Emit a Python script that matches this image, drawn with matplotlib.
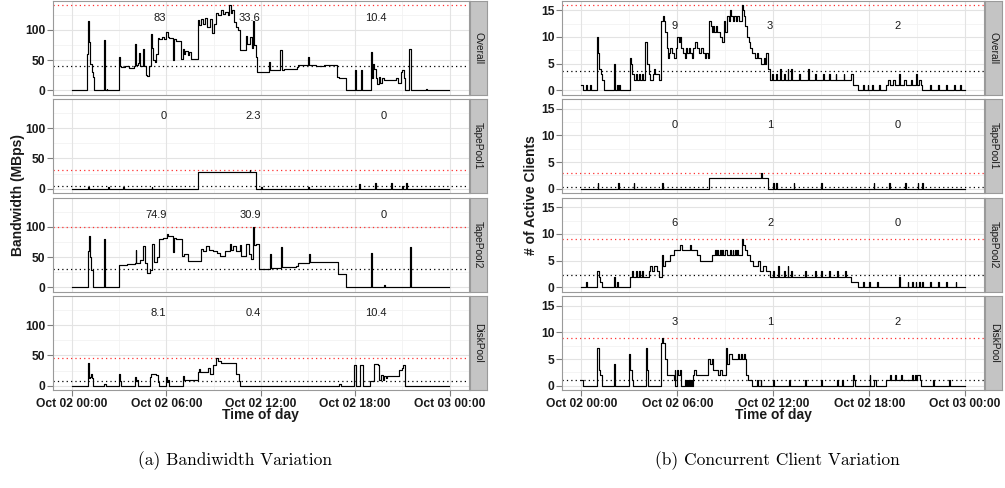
import matplotlib
matplotlib.use("Agg")
import matplotlib.pyplot as plt

# ---------------------------------------------------------------- data
facets = ["Overall", "TapePool1", "TapePool2", "DiskPool"]
hour_ticks = [0, 6, 12, 18, 24]
hour_labels = ["Oct 02 00:00", "Oct 02 06:00", "Oct 02 12:00",
               "Oct 02 18:00", "Oct 03 00:00"]

# Bandwidth (MBps): (hour, value) breakpoints, each value held until the next
bw_overall = [(0, 0), (0.99, 60), (1.04, 115), (1.10, 80), (1.17, 44), (1.25, 30), (1.31, 22), (1.41, 0),
              (2.03, 83), (2.11, 0), (2.20, 3), (2.25, 0),
              (3.02, 55), (3.08, 40), (3.15, 38), (3.4, 40), (3.6, 37), (3.95, 40), (4.01, 76), (4.06, 42),
              (4.2, 45), (4.27, 62), (4.32, 40), (4.52, 69), (4.58, 40), (4.7, 25), (4.78, 23), (4.92, 40),
              (5.03, 93), (5.10, 70), (5.17, 50), (5.25, 46), (5.35, 60), (5.45, 86), (5.55, 84), (5.7, 88),
              (5.85, 84), (6.0, 96), (6.08, 88), (6.2, 86), (6.42, 50), (6.48, 84), (6.6, 82), (6.95, 51),
              (7.03, 69), (7.1, 60), (7.2, 65), (7.35, 58), (7.45, 63), (7.55, 51), (8.0, 116), (8.1, 108),
              (8.2, 118), (8.3, 110), (8.45, 120), (8.6, 105), (8.75, 118), (8.9, 94), (9.05, 110),
              (9.18, 128), (9.3, 125), (9.45, 132), (9.6, 126), (9.75, 130), (9.9, 124), (10.0, 141),
              (10.08, 127), (10.2, 132), (10.3, 113), (10.4, 105), (10.55, 100), (10.7, 66), (11.05, 90),
              (11.15, 77), (11.3, 88), (11.45, 70), (11.52, 115), (11.58, 75), (11.68, 55), (11.78, 31),
              (12.5, 47), (12.56, 34), (13.25, 66), (13.32, 34), (13.45, 36), (14.3, 39), (14.36, 41),
              (15.0, 55), (15.06, 41), (15.5, 40), (16.0, 42), (16.85, 22), (17.0, 21), (17.4, 0),
              (18.0, 34), (18.08, 0), (18.35, 34), (18.42, 0), (18.98, 63), (19.05, 20), (19.12, 44),
              (19.2, 35), (19.3, 20), (19.4, 10), (19.5, 22), (19.6, 12), (19.7, 20), (19.8, 17),
              (20.2, 17), (20.6, 20), (20.75, 12), (20.9, 30), (21.0, 34), (21.1, 20), (21.17, 0),
              (21.45, 68), (21.52, 0), (22.5, 2), (22.55, 0), (23.95, 0)]
bw_tape1 = [(0, 0), (1.01, 3), (1.06, 0), (2.28, 3), (2.33, 0), (3.27, 3), (3.32, 0), (5.07, 3), (5.12, 0),
            (8.02, 28.4), (11.29, 30.6), (11.34, 28.4), (11.67, 0), (12.03, 3), (12.08, 0),
            (14.99, 3), (15.04, 0), (18.26, 7.6), (18.31, 0), (19.27, 9), (19.32, 0), (20.27, 9),
            (20.32, 0), (21.0, 5), (21.05, 0), (21.26, 10), (21.31, 0), (23.95, 0)]
bw_tape2 = [(0, 0), (1.01, 60), (1.06, 84), (1.14, 50), (1.2, 28), (1.31, 0), (2.03, 79), (2.11, 0),
            (3.02, 37), (3.5, 39), (4.01, 40), (4.05, 62), (4.1, 40), (4.33, 45), (4.55, 69), (4.62, 40),
            (4.75, 24), (4.96, 28), (5.1, 71), (5.2, 42), (5.38, 50), (5.52, 79), (5.81, 82), (6.02, 88),
            (6.12, 85), (6.33, 85), (6.44, 58), (6.5, 82), (6.6, 80), (6.97, 52), (7.1, 55), (7.39, 43),
            (7.9, 43), (8.23, 63), (8.35, 60), (8.55, 69), (8.7, 62), (8.97, 60), (9.2, 57), (9.39, 52),
            (9.7, 60), (10.03, 71), (10.1, 62), (10.24, 68), (10.4, 60), (10.66, 70), (10.77, 52),
            (11.08, 71), (11.25, 55), (11.4, 47), (11.52, 100), (11.6, 70), (11.72, 71), (11.89, 31),
            (12.6, 55), (12.67, 32), (13.3, 66), (13.36, 34), (14.25, 36), (14.35, 40), (15.05, 55),
            (15.1, 42), (16.89, 22), (17.42, 0), (19.0, 57), (19.06, 0), (19.84, 4), (19.9, 0),
            (21.49, 67), (21.55, 0), (23.95, 0)]
bw_disk = [(0, 0), (1.03, 38), (1.1, 12), (1.16, 15), (1.22, 20), (1.28, 12), (1.36, 0), (2.05, 3), (2.17, 0),
           (3.0, 20), (3.06, 8), (3.1, 0), (4.01, 14), (4.06, 7), (4.12, 9), (4.2, 0), (4.95, 15),
           (5.05, 20), (5.35, 17), (5.45, 6), (5.55, 0), (5.95, 14), (6.05, 6), (6.12, 10), (6.2, 0),
           (7.03, 16), (7.15, 10), (8.02, 22), (8.1, 27), (8.15, 22), (8.55, 22), (8.66, 29), (8.76, 20),
           (8.97, 34), (9.15, 46), (9.3, 41), (9.45, 38), (10.41, 38), (10.45, 20), (10.6, 8), (10.7, 0),
           (17.0, 3), (17.08, 0), (17.94, 34), (18.05, 0), (18.3, 34), (18.47, 0), (18.96, 8),
           (19.2, 36), (19.42, 34), (19.5, 9), (19.62, 17), (19.74, 9), (19.85, 16), (19.95, 12),
           (20.05, 16), (20.69, 16), (20.8, 26), (20.95, 30), (21.05, 35), (21.17, 0), (23.95, 0)]

# Concurrent active clients: (hour, count) breakpoints
cl_overall = [(0, 1), (0.1, 0), (0.31, 1), (0.36, 0), (0.56, 1), (0.6, 0), (0.96, 5), (0.99, 10), (1.06, 7),
              (1.12, 4), (1.2, 3), (1.29, 2), (1.39, 0), (2.02, 5), (2.08, 1), (2.12, 0), (2.22, 1),
              (2.28, 0), (2.33, 1), (2.38, 0), (3.01, 6), (3.08, 5), (3.16, 3), (3.26, 2), (3.4, 3),
              (3.45, 2), (3.6, 3), (3.65, 2), (3.8, 3), (3.85, 2), (4.0, 9), (4.08, 5), (4.2, 3), (4.3, 2),
              (4.45, 3), (4.51, 4), (4.6, 3), (4.88, 2), (5.0, 13), (5.08, 14), (5.15, 13), (5.24, 11),
              (5.34, 8), (5.44, 6), (5.5, 7), (5.55, 8), (5.65, 7), (5.76, 6), (5.9, 8), (6.0, 10),
              (6.1, 9), (6.17, 10), (6.25, 8), (6.35, 7), (6.45, 6), (6.55, 8), (6.62, 7), (6.7, 8),
              (6.8, 7), (6.9, 6), (7.0, 8), (7.1, 9), (7.2, 8), (7.35, 7), (7.45, 8), (7.6, 7), (7.7, 6),
              (7.8, 7), (7.94, 6), (8.0, 13), (8.08, 12), (8.15, 11), (8.25, 12), (8.32, 11), (8.4, 12),
              (8.5, 11), (8.67, 10), (8.77, 9), (8.91, 13), (9.0, 11), (9.08, 14), (9.2, 13), (9.29, 15),
              (9.35, 14), (9.45, 13), (9.55, 14), (9.65, 13), (9.75, 14), (9.85, 13), (10.02, 16),
              (10.1, 15), (10.15, 14), (10.22, 12), (10.33, 10), (10.45, 9), (10.54, 8), (10.65, 7),
              (10.85, 6), (11.0, 7), (11.05, 6), (11.26, 5), (11.4, 6), (11.5, 5), (11.57, 7), (11.68, 4),
              (11.78, 2), (11.9, 3), (12.0, 2), (12.2, 3), (12.25, 2), (12.45, 4), (12.5, 2), (12.7, 3),
              (12.75, 2), (12.9, 4), (12.95, 2), (13.13, 4), (13.2, 2), (13.6, 3), (13.65, 2), (14.2, 4),
              (14.25, 2), (14.6, 3), (14.65, 2), (15.1, 3), (15.15, 2), (15.5, 3), (15.55, 2), (15.9, 3),
              (15.95, 2), (16.4, 3), (16.45, 2), (16.87, 3), (16.98, 1), (17.29, 0), (17.6, 1), (17.65, 0),
              (17.9, 1), (17.95, 0), (18.2, 1), (18.25, 0), (18.6, 1), (18.65, 0), (19.06, 1), (19.2, 2),
              (19.3, 1), (19.5, 2), (19.6, 1), (19.89, 3), (19.95, 1), (20.2, 2), (20.3, 1), (20.6, 2),
              (20.7, 1), (20.9, 3), (21.0, 1), (21.1, 2), (21.24, 1), (21.3, 0), (21.8, 1), (21.85, 0),
              (22.3, 1), (22.35, 0), (22.8, 1), (22.85, 0), (23.3, 1), (23.35, 0), (23.7, 1), (23.75, 0),
              (24, 0)]
cl_tape1 = [(0, 0), (1.02, 1), (1.06, 0), (2.29, 1), (2.33, 0), (3.26, 1), (3.3, 0), (5.03, 1), (5.07, 0),
            (8.0, 2), (11.26, 3), (11.3, 2), (11.68, 0), (11.99, 1), (12.03, 0), (12.2, 1), (12.24, 0),
            (13.28, 1), (13.32, 0), (15.0, 1), (15.04, 0), (18.27, 1), (18.31, 0), (19.26, 1), (19.3, 0),
            (20.26, 1), (20.3, 0), (21.03, 1), (21.07, 0), (21.3, 1), (21.34, 0), (24, 0)]
cl_tape2 = [(0, 0), (0.31, 1), (0.36, 0), (0.98, 3), (1.1, 2), (1.18, 1), (1.29, 0), (2.02, 2), (2.07, 0),
            (2.22, 1), (2.27, 0), (3.01, 2), (3.16, 3), (3.2, 2), (3.4, 3), (3.45, 2), (3.6, 3), (3.65, 2),
            (3.8, 3), (3.85, 2), (4.2, 3), (4.3, 4), (4.4, 3), (4.51, 4), (4.72, 3), (4.88, 2), (5.03, 6),
            (5.1, 4), (5.24, 5), (5.55, 6), (5.76, 7), (6.17, 8), (6.3, 7), (6.8, 8), (6.85, 7), (7.21, 6),
            (7.42, 5), (8.15, 6), (8.35, 7), (8.4, 6), (8.5, 7), (8.55, 6), (8.65, 7), (8.7, 6), (8.8, 7),
            (8.85, 6), (8.95, 7), (9.08, 6), (9.29, 7), (9.35, 6), (9.45, 7), (9.5, 6), (9.6, 7),
            (9.65, 6), (9.75, 7), (9.8, 6), (10.02, 9), (10.08, 8), (10.22, 7), (10.33, 6), (10.54, 5),
            (10.74, 4), (11.05, 5), (11.16, 3), (11.37, 4), (11.57, 3), (11.78, 2), (12.0, 3), (12.05, 2),
            (12.3, 4), (12.35, 2), (12.7, 3), (12.75, 2), (12.9, 4), (12.95, 2), (13.1, 3), (13.15, 2),
            (14.0, 3), (14.05, 2), (14.6, 3), (14.65, 2), (15.0, 3), (15.05, 2), (15.5, 3), (15.55, 2),
            (16.0, 3), (16.05, 2), (16.5, 3), (16.55, 2), (16.87, 1), (17.29, 0), (17.6, 1), (17.65, 0),
            (18.0, 1), (18.05, 0), (18.5, 1), (18.55, 0), (19.89, 2), (19.95, 0), (20.4, 1), (20.45, 0),
            (20.7, 1), (20.75, 0), (20.9, 1), (20.95, 0), (21.1, 1), (21.15, 0), (21.3, 1), (21.35, 0),
            (21.8, 1), (21.85, 0), (22.3, 1), (22.35, 0), (22.8, 1), (22.85, 0), (23.4, 1), (23.45, 0),
            (24, 0)]
cl_disk = [(0, 1), (0.08, 0), (1.0, 7), (1.08, 3), (1.16, 2), (1.28, 0), (2.02, 4), (2.08, 0), (2.99, 6),
           (3.05, 3), (3.14, 1), (3.22, 0), (4.03, 7), (4.1, 3), (4.18, 0), (4.99, 8), (5.05, 9), (5.12, 8),
           (5.2, 5), (5.34, 2), (5.76, 1), (5.82, 3), (5.88, 0), (5.96, 3), (6.03, 2), (6.17, 3), (6.22, 0),
           (6.48, 1), (6.55, 0), (6.6, 1), (6.65, 0), (6.72, 1), (6.78, 0), (6.85, 1), (6.9, 0), (7.0, 2),
           (7.07, 3), (7.15, 2), (7.94, 5), (8.04, 4), (8.15, 5), (8.25, 3), (8.56, 2), (8.67, 3),
           (8.77, 2), (9.04, 7), (9.1, 4), (9.2, 6), (9.39, 5), (9.8, 6), (9.83, 5), (10.0, 6), (10.03, 5),
           (10.15, 6), (10.22, 5), (10.29, 2), (10.43, 1), (10.68, 0), (11.0, 1), (11.04, 0), (11.2, 1),
           (11.24, 0), (12.0, 1), (12.04, 0), (13.0, 1), (13.04, 0), (14.0, 1), (14.04, 0), (15.0, 1),
           (15.04, 0), (16.0, 1), (16.04, 0), (16.3, 1), (16.34, 0), (16.98, 2), (17.05, 1), (17.1, 0),
           (18.02, 2), (18.08, 0), (18.33, 1), (18.45, 0), (19.06, 1), (19.3, 2), (19.35, 1), (19.6, 2),
           (19.65, 1), (20.0, 2), (20.05, 1), (20.7, 2), (20.75, 1), (20.85, 2), (20.9, 1), (21.0, 2),
           (21.18, 1), (21.24, 0), (22.0, 1), (22.04, 0), (23.0, 1), (23.04, 0), (24, 0)]

bw_max = [141, 30.6, 100, 45.6]
bw_mean = [40, 4.2, 29.5, 7]
cl_max = [16, 3, 9, 9]
cl_mean = [3.6, 0.3, 2.35, 1.0]

bw_notes = [["83", "33.6", "10.4"], ["0", "2.3", "0"], ["74.9", "30.9", "0"], ["8.1", "0.4", "10.4"]]
cl_notes = [["9", "3", "2"], ["0", "1", "0"], ["6", "2", "0"], ["3", "1", "2"]]
note_hours = [6, 12, 20]

# ---------------------------------------------------------------- layout
W, H = 1005, 488
fig = plt.figure(figsize=(W / 100, H / 100), dpi=100)
fig.patch.set_facecolor("white")

panel_tops = [0.6, 99.0, 197.6, 296.0]
panel_h = 94.0
TICK_COLOR = "#7f7f7f"
TEXT_COLOR = "#1a1a1a"


def draw_facets(x0, x1, strip_x0, strip_x1, series, maxes, means, notes, note_y,
                ylim, yticks, yminor, ylabel, ylabel_x):
    for i, name in enumerate(facets):
        bottom = 1 - (panel_tops[i] + panel_h) / H
        ax = fig.add_axes([x0 / W, bottom, (x1 - x0) / W, panel_h / H])
        ax.set_xlim(-1.2, 25.2)
        ax.set_ylim(*ylim)
        ax.set_facecolor("white")
        for y in yminor:
            ax.axhline(y, color="#f2f2f2", lw=0.6, zorder=0)
        for x in [3, 9, 15, 21]:
            ax.axvline(x, color="#f2f2f2", lw=0.6, zorder=0)
        for y in yticks:
            ax.axhline(y, color="#e3e3e3", lw=0.8, zorder=0.5)
        for x in hour_ticks:
            ax.axvline(x, color="#e3e3e3", lw=0.8, zorder=0.5)

        t = [p[0] for p in series[i]]
        v = [p[1] for p in series[i]]
        ax.step(t, v, where="post", color="black", lw=0.85, zorder=3)
        ax.axhline(maxes[i], color="#ff3030", lw=0.9, ls=(0, (1, 2.5)), zorder=2)
        ax.axhline(means[i], color="black", lw=0.9, ls=(0, (1, 2.5)), zorder=2)
        for h, s in zip(note_hours, notes[i]):
            ax.text(h, note_y, s, ha="right", va="center", fontsize=8,
                    family="Liberation Sans", color=TEXT_COLOR, zorder=4)

        for sp in ax.spines.values():
            sp.set_color("#9a9a9a")
            sp.set_linewidth(0.8)
        ax.set_yticks(yticks)
        ax.set_yticklabels([str(y) for y in yticks], fontsize=8.7, fontweight="bold",
                           family="Liberation Sans", color=TEXT_COLOR)
        ax.tick_params(axis="y", length=4, width=0.8, color=TICK_COLOR, pad=1.5)
        ax.set_xticks(hour_ticks)
        if i == len(facets) - 1:
            ax.set_xticklabels(hour_labels, fontsize=8.7, fontweight="bold",
                               family="Liberation Sans", color=TEXT_COLOR)
            ax.tick_params(axis="x", length=4, width=0.8, color=TICK_COLOR, pad=1.5)
        else:
            ax.tick_params(axis="x", length=0, labelbottom=False)

        sax = fig.add_axes([strip_x0 / W, bottom, (strip_x1 - strip_x0) / W, panel_h / H])
        sax.set_facecolor("#c4c4c4")
        sax.set_xticks([])
        sax.set_yticks([])
        for sp in sax.spines.values():
            sp.set_color("#9a9a9a")
            sp.set_linewidth(0.8)
        sax.text(0.5, 0.5, name, rotation=-90, ha="center", va="center", fontsize=7.3,
                 family="Liberation Sans", color=TEXT_COLOR, transform=sax.transAxes)

    mid_y = 1 - (panel_tops[0] + panel_tops[-1] + panel_h) / 2 / H
    fig.text(ylabel_x / W, mid_y, ylabel, rotation=90, ha="center", va="center",
             fontsize=10, fontweight="bold", family="Liberation Sans", color=TEXT_COLOR)
    fig.text((x0 + x1) / 2 / W, 1 - 415.5 / H, "Time of day", ha="center", va="center",
             fontsize=10, fontweight="bold", family="Liberation Sans", color=TEXT_COLOR)


draw_facets(53.0, 468.5, 469.5, 487.0,
            [bw_overall, bw_tape1, bw_tape2, bw_disk], bw_max, bw_mean, bw_notes, 120,
            (-7.05, 148.05), [0, 50, 100], [25, 75, 125], "Bandwidth (MBps)", 18)
draw_facets(562.3, 984.3, 985.3, 1002.0,
            [cl_overall, cl_tape1, cl_tape2, cl_disk], cl_max, cl_mean, cl_notes, 12,
            (-0.8, 16.8), [0, 5, 10, 15], [2.5, 7.5, 12.5], "# of Active Clients", 531)

fig.text(235 / W, 1 - 461 / H, "(a) Bandiwidth Variation", ha="center", va="center",
         fontsize=12.5, family="cmr10", color="black")
fig.text(777 / W, 1 - 461 / H, "(b) Concurrent Client Variation", ha="center", va="center",
         fontsize=12.5, family="cmr10", color="black")

fig.savefig("out.png", dpi=100, facecolor="white")
